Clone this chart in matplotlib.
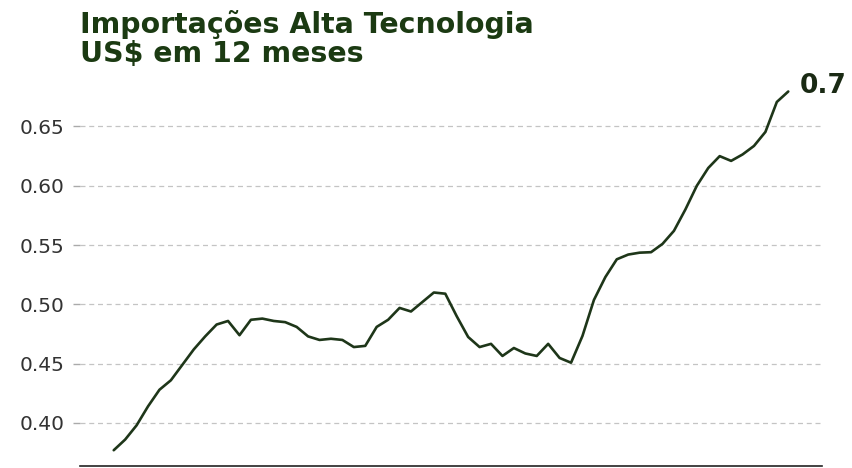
import matplotlib
matplotlib.use("Agg")
import matplotlib.pyplot as plt
import numpy as np

# Monthly 12-month rolling high-tech imports (US$)
values = [
    0.377, 0.386, 0.398, 0.414, 0.428, 0.436, 0.449, 0.462, 0.473, 0.483,
    0.486, 0.474, 0.487, 0.488, 0.486, 0.485, 0.481, 0.473, 0.470, 0.471,
    0.470, 0.464, 0.465, 0.481, 0.487, 0.497, 0.494, 0.502, 0.510, 0.509,
    0.490, 0.4725, 0.464, 0.4667, 0.4565, 0.4632, 0.4586, 0.4565, 0.4667, 0.4548,
    0.4508, 0.4734, 0.5037, 0.523, 0.538, 0.542, 0.5436, 0.544, 0.551, 0.562,
    0.580, 0.600, 0.615, 0.625, 0.621, 0.6264, 0.6336, 0.6454, 0.6707, 0.6795,
]
yticks = [0.40, 0.45, 0.50, 0.55, 0.60, 0.65]
title_text = "Importações Alta Tecnologia\nUS\\$ em 12 meses"

line_color = "#1e3619"
title_color = "#1b3a12"

fig = plt.figure(figsize=(8.53, 4.68), dpi=100)
ax = fig.add_axes([80 / 853, 2 / 468, 742 / 853, 392.4 / 468])

x = np.arange(len(values))
ax.plot(x, values, color=line_color, linewidth=1.9, solid_capstyle="round")
ax.margins(x=0.05)
ax.set_ylim(0.3637, 0.6946)

ax.set_yticks(yticks)
ax.set_yticklabels([f"{v:.2f}" for v in yticks])
ax.tick_params(axis="y", labelsize=14.5, colors="#aaaaaa", labelcolor="#333333",
               length=5, width=1, pad=6)
ax.set_xticks([])
ax.grid(axis="y", linestyle=(0, (4, 3)), color="#c4c4c4", linewidth=0.9)
ax.set_axisbelow(True)
for side in ["top", "right", "left"]:
    ax.spines[side].set_visible(False)
ax.spines["bottom"].set_color("#222222")
ax.spines["bottom"].set_linewidth(1.2)

ax.annotate(f"{values[-1]:.1f}", xy=(x[-1], values[-1]), xytext=(8.5, -1),
            textcoords="offset points", fontsize=19, fontweight="bold",
            color="#1a2a14", va="baseline", ha="left", annotation_clip=False)

fig.text(80 / 853, 1 - 10 / 468, title_text, fontsize=20.4, fontweight="bold",
         color=title_color, va="top", ha="left", linespacing=1.06)

fig.savefig("out.png", dpi=100, facecolor="white")
